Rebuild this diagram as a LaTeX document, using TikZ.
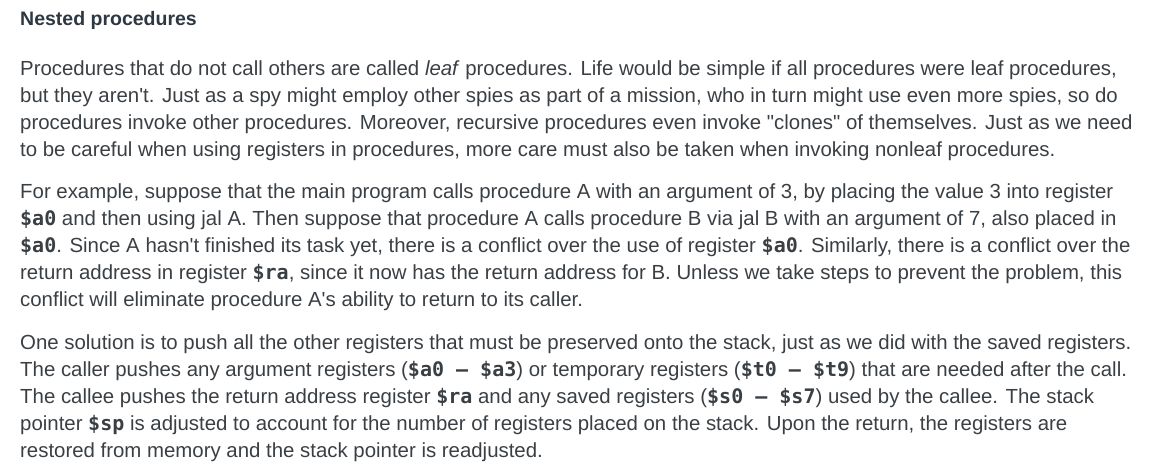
\documentclass[tikz,border=0pt]{standalone}
\usepackage{fontspec}
\setmainfont{Liberation Sans}[Ligatures=TeXOff]
\newfontfamily\codefont{DejaVu Sans Mono}[Ligatures=TeXOff]
\definecolor{bodytext}{RGB}{58,63,68}
\definecolor{headtext}{RGB}{45,56,66}
\newcommand{\code}[1]{{\codefont\fontsize{20}{27}\selectfont\bfseries #1}}
\begin{document}
\begin{tikzpicture}[x=1pt, y=-1pt,
  every node/.style={anchor=base west, inner sep=0pt},
  txt/.style={font=\fontsize{20.4}{27}\selectfont, text=bodytext},
  head/.style={font=\fontsize{19.5}{27}\selectfont\bfseries, text=headtext}]
\useasboundingbox (0,0) rectangle (1162,476);
\node[head] (title) at (20,26) {Nested procedures};
% first paragraph
\node[txt] (p1a) at (20,76) {Procedures that do not call others are called \textit{leaf} procedures. Life would be simple if all procedures were leaf procedures,};
\node[txt] (p1b) at (20,103) {but they aren't. Just as a spy might employ other spies as part of a mission, who in turn might use even more spies, so do};
\node[txt] (p1c) at (20,130) {procedures invoke other procedures. Moreover, recursive procedures even invoke "clones" of themselves. Just as we need};
\node[txt] (p1d) at (20,157) {to be careful when using registers in procedures, more care must also be taken when invoking nonleaf procedures.};
% second paragraph
\node[txt] (p2a) at (20,198) {For example, suppose that the main program calls procedure A with an argument of 3, by placing the value 3 into register};
\node[txt] (p2b) at (20,225) {\code{\$a0} and then using jal A. Then suppose that procedure A calls procedure B via jal B with an argument of 7, also placed in};
\node[txt] (p2c) at (20,252) {\code{\$a0}. Since A hasn't finished its task yet, there is a conflict over the use of register \code{\$a0}. Similarly, there is a conflict over the};
\node[txt] (p2d) at (20,279) {return address in register \code{\$ra}, since it now has the return address for B. Unless we take steps to prevent the problem, this};
\node[txt] (p2e) at (20,306) {conflict will eliminate procedure A's ability to return to its caller.};
% third paragraph
\node[txt] (p3a) at (20,349) {One solution is to push all the other registers that must be preserved onto the stack, just as we did with the saved registers.};
\node[txt] (p3b) at (20,376) {The caller pushes any argument registers (\code{\$a0 – \$a3}) or temporary registers (\code{\$t0 – \$t9}) that are needed after the call.};
\node[txt] (p3c) at (20,403) {The callee pushes the return address register \code{\$ra} and any saved registers (\code{\$s0 – \$s7}) used by the callee. The stack};
\node[txt] (p3d) at (20,430) {pointer \code{\$sp} is adjusted to account for the number of registers placed on the stack. Upon the return, the registers are};
\node[txt] (p3e) at (20,457) {restored from memory and the stack pointer is readjusted.};
\end{tikzpicture}
\end{document}
